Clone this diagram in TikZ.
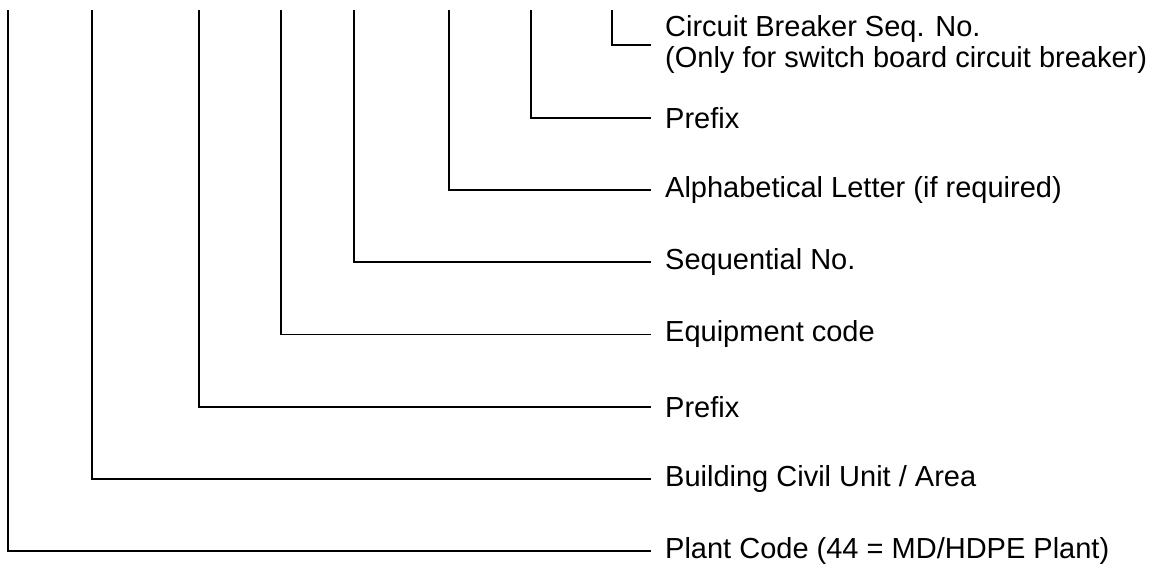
\documentclass[tikz,border=0pt]{standalone}
\usepackage{fontspec}
\setmainfont{Liberation Sans}
\begin{document}
\begin{tikzpicture}[x=1pt,y=-1pt,
  lbl/.style={anchor=west,inner xsep=15pt,inner ysep=0pt,align=left,font=\fontsize{29}{31}\selectfont},
  conn/.style={line width=1.7pt,line cap=rect}]
\useasboundingbox (0,0) rectangle (1160,567);
\coordinate (t1) at (8,11);
\coordinate (t2) at (92,11);
\coordinate (t3) at (199,11);
\coordinate (t4) at (281,11);
\coordinate (t5) at (354,11);
\coordinate (t6) at (449,11);
\coordinate (t7) at (531,11);
\coordinate (t8) at (612,11);
\node[lbl] (l8) at (650,45) {Circuit Breaker Seq. No.\\(Only for switch board circuit breaker)};
\node[lbl] (l7) at (650,118) {Prefix};
\node[lbl] (l6) at (650,190.2) {Alphabetical Letter (if required)};
\node[lbl] (l5) at (650,262.3) {Sequential No.};
\node[lbl] (l4) at (650,334.5) {Equipment code};
\node[lbl] (l3) at (650,406.7) {Prefix};
\node[lbl] (l2) at (650,478.8) {Building Civil Unit / Area};
\node[lbl] (l1) at (650,551) {Plant Code (44 = MD/HDPE Plant)};
\foreach \i in {1,...,8} \draw[conn] (t\i) |- (l\i.west);
\end{tikzpicture}
\end{document}
